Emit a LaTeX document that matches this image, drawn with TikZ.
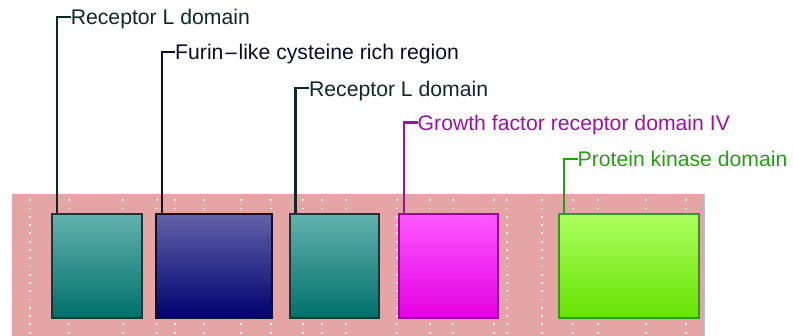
\documentclass[tikz,border=0pt]{standalone}
\usepackage{fontspec}
\setmainfont{Liberation Sans}
\definecolor{bgpink}{RGB}{229,165,165}
\definecolor{edgeblue}{RGB}{168,200,232}
\definecolor{tealtop}{RGB}{98,178,174}
\definecolor{tealbot}{RGB}{0,112,106}
\definecolor{tealdraw}{RGB}{22,56,54}
\definecolor{tealtext}{RGB}{14,40,40}
\definecolor{navytop}{RGB}{98,98,170}
\definecolor{navybot}{RGB}{0,0,110}
\definecolor{navydraw}{RGB}{16,16,44}
\definecolor{navytext}{RGB}{12,12,40}
\definecolor{magtop}{RGB}{255,88,255}
\definecolor{magbot}{RGB}{226,0,226}
\definecolor{magdraw}{RGB}{160,0,160}
\definecolor{magtext}{RGB}{160,16,168}
\definecolor{grntop}{RGB}{172,255,96}
\definecolor{grnbot}{RGB}{102,226,0}
\definecolor{grndraw}{RGB}{46,154,30}
\definecolor{grntext}{RGB}{34,160,16}
\begin{document}
\begin{tikzpicture}[x=1pt,y=-1pt,
  box/.style={rectangle, line width=2pt, inner sep=0pt, anchor=north west},
  conn/.style={line width=2.3pt},
  lbl/.style={inner sep=0pt, anchor=base west, font=\fontsize{21.2}{25}\selectfont},
  dot/.style={fill=white, opacity=0.9}]
\useasboundingbox (0,0) rectangle (793,336);
% background
\fill[bgpink] (12,194) rectangle (704,336);
\draw[edgeblue, line width=1pt] (704.3,194) -- (704.3,336);
% dotted grid columns
\foreach \xx in {30,69,123,157,175,204,241,271,303,322,346,397,430,453,494,506.7,542,573,598,646,686}{
  \foreach \k in {0,...,16}{
    \fill[dot] ({\xx-0.9},{200.3+8.27*\k-0.9}) rectangle ++(1.8,1.8);
  }
}
% domain boxes
\node[box, top color=tealtop, bottom color=tealbot, draw=tealdraw, minimum width=90.3pt, minimum height=104.6pt] (b1) at (51,212.7) {};
\node[box, top color=navytop, bottom color=navybot, draw=navydraw, minimum width=115.4pt, minimum height=104.6pt] (b2) at (155.3,212.7) {};
\node[box, top color=tealtop, bottom color=tealbot, draw=tealdraw, minimum width=89.3pt, minimum height=104.6pt] (b3) at (288.7,212.7) {};
\node[box, top color=magtop, bottom color=magbot, draw=magdraw, minimum width=99pt, minimum height=104.6pt] (b4) at (398,212.7) {};
\node[box, top color=grntop, bottom color=grnbot, draw=grndraw, minimum width=140pt, minimum height=104.6pt] (b5) at (558,212.7) {};
% label corners
\coordinate (k1) at (57.3,17);
\coordinate (k2) at (161.7,51.7);
\coordinate (k3) at (295.6,88.3);
\coordinate (k4) at (404.2,122.6);
\coordinate (k5) at (564.2,159);
% labels
\node[lbl, text=tealtext] (l1) at (70.6,24.8) {Receptor L domain};
\node[lbl, text=navytext] (l2) at (175.0,59.5) {Furin{\fontspec{DejaVu Sans}\fontsize{18}{20}\selectfont−}like cysteine rich region};
\node[lbl, text=tealtext] (l3) at (308.9,96.1) {Receptor L domain};
\node[lbl, text=magtext] (l4) at (417.5,130.4) {Growth factor receptor domain IV};
\node[lbl, text=grntext] (l5) at (577.5,166.8) {Protein kinase domain};
% connectors
\draw[conn, tealtext] (k1 |- b1.north) -- (k1) -- (k1 -| l1.west);
\draw[conn, navytext] (k2 |- b2.north) -- (k2) -- (k2 -| l2.west);
\draw[conn, tealtext] (k3 |- b3.north) -- (k3) -- (k3 -| l3.west);
\draw[conn, magtext] (k4 |- b4.north) -- (k4) -- (k4 -| l4.west);
\draw[conn, grntext] (k5 |- b5.north) -- (k5) -- (k5 -| l5.west);
\end{tikzpicture}
\end{document}
